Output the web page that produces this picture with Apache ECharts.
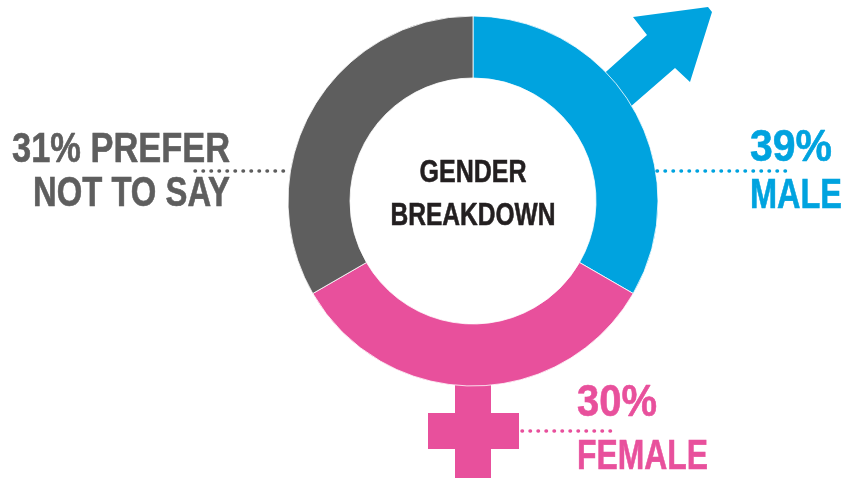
<!DOCTYPE html>
<html lang="en">
<head>
<meta charset="UTF-8">
<title>gender breakdown</title>
<script src="https://cdn.jsdelivr.net/npm/echarts@6/dist/echarts.min.js"></script>
<style>
    html, body { margin: 0; padding: 0; background: #fff; }
    #main { width: 846px; height: 479px; }
</style>
</head>
<body>
<div id="main"></div>
<script>
    // data
    var categories = ['MALE', 'FEMALE', 'PREFER NOT TO SAY'];
    var percents = [39, 30, 31];
    // the ring in the original is drawn as three equal arcs, whatever the %
    var arcShares = [1, 1, 1];
    var colors = ['#00a3df', '#e8509c', '#5e5e5e'];
    var centerTitle = ['GENDER', 'BREAKDOWN'];

    // label lines, built from the data above
    var labelLines = [
        [percents[0] + '%', categories[0]],
        [percents[1] + '%', categories[1]],
        [percents[2] + '% PREFER', 'NOT TO SAY']
    ];

    var chart = echarts.init(document.getElementById('main'));
    var cx = 473, cy = 201;
    var font = '"Liberation Sans", Arial, sans-serif';

    // the original uses a condensed face: squeeze a normal bold face to the wanted width
    var ctx = document.createElement('canvas').getContext('2d');
    function txt(x, y, s, size, color, align, width) {
        ctx.font = 'bold ' + size + 'px ' + font;
        var w = ctx.measureText(s).width;
        return {
            type: 'text', x: x, y: y, z: 10,
            scaleX: width / w,
            style: {
                text: s, fill: color, fontSize: size, fontWeight: 'bold',
                fontFamily: font, align: align, verticalAlign: 'middle',
                stroke: color, lineWidth: 0.6
            }
        };
    }

    function dots(x1, x2, y, color) {
        return {
            type: 'line', z: 10,
            shape: {x1: x1, y1: y, x2: x2, y2: y},
            style: {stroke: color, lineWidth: 3.5, lineDash: [0.5, 7.5], lineCap: 'round'}
        };
    }

    var graphics = [
        // male arrow
        {
            type: 'polygon', z: 1,
            shape: {points: [[588, 88], [647, 35], [633, 17], [708, 7], [712, 12], [690, 82], [675, 68], [614, 121]]},
            style: {fill: colors[0]}
        },
        // female cross
        {type: 'rect', z: 1, shape: {x: 455, y: 370, width: 36, height: 108}, style: {fill: colors[1]}},
        {type: 'rect', z: 1, shape: {x: 428, y: 413, width: 91, height: 36}, style: {fill: colors[1]}},

        dots(657, 792, 171, colors[0]),
        dots(522, 615, 431, colors[1]),
        dots(195, 285, 171, colors[2]),

        txt(750, 149, labelLines[0][0], 44, colors[0], 'left', 82),
        txt(750, 196, labelLines[0][1], 42, colors[0], 'left', 92),
        txt(577, 404, labelLines[1][0], 44, colors[1], 'left', 80),
        txt(577, 457, labelLines[1][1], 42, colors[1], 'left', 131),
        txt(230, 150, labelLines[2][0], 42, colors[2], 'right', 218),
        txt(230, 194, labelLines[2][1], 42, colors[2], 'right', 197),

        txt(cx, 173.5, centerTitle[0], 32, '#231f20', 'center', 107),
        txt(cx, 216.5, centerTitle[1], 32, '#231f20', 'center', 165)
    ];

    var option = {
        animation: false,
        graphic: graphics,
        series: [
            {
                type: 'pie',
                silent: true,
                center: [cx, cy],
                radius: [123, 185],
                startAngle: 90,
                clockwise: true,
                label: {show: false},
                labelLine: {show: false},
                itemStyle: {borderColor: '#fff', borderWidth: 0.8},
                data: categories.map(function (name, i) {
                    return {name: name, value: arcShares[i], itemStyle: {color: colors[i]}};
                })
            }
        ]
    };
    chart.setOption(option);
</script>
</body>
</html>
